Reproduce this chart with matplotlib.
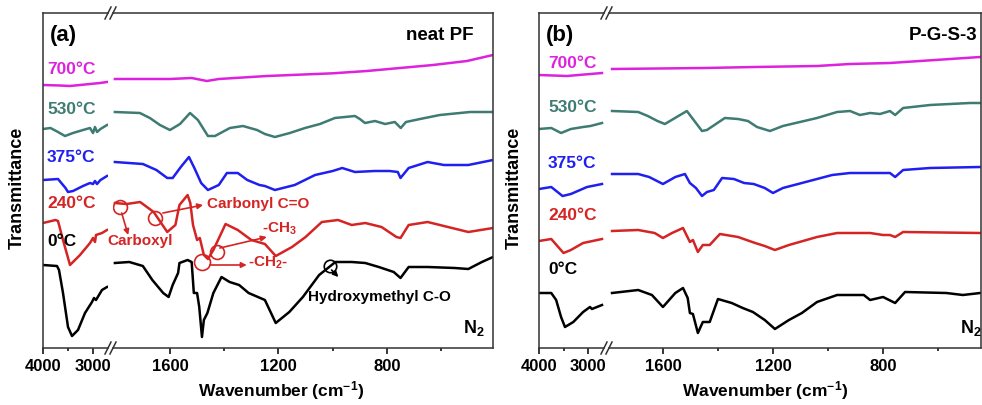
import numpy as np
import matplotlib.pyplot as plt
from matplotlib.lines import Line2D

plt.rcParams['font.family'] = ['Liberation Sans', 'DejaVu Sans']
plt.rcParams['font.weight'] = 'bold'
plt.rcParams['mathtext.fontset'] = 'custom'
plt.rcParams['mathtext.rm'] = 'Liberation Sans:bold'
plt.rcParams['mathtext.bf'] = 'Liberation Sans:bold'
plt.rcParams['mathtext.default'] = 'bf'

# FTIR spectra, transmittance in arbitrary (stacked) units
# neat PF
wn_a700 = [4000, 3660, 3460, 3160, 2860, 2720,
           1803, 1600, 1520, 1464, 1420, 1242, 999, 874, 630, 505, 409]
t_a700 = [263, 262.5, 262, 263.5, 265, 266,
          269, 269, 270, 267, 269, 272, 274.7, 277, 283, 287, 293]

wn_a530 = [4000, 3850, 3700, 3560, 3400, 3200, 3060, 3000, 2960, 2920, 2850, 2720,
           1803, 1711, 1674, 1637, 1600, 1563, 1526, 1497, 1460, 1434, 1379, 1331, 1279,
           1250, 1213, 1158, 1102, 1047, 992, 918, 900, 881, 844, 807, 771, 749, 730,
           678, 605, 494, 409]
t_a530 = [219, 220, 216, 212, 215, 218, 220, 215, 221, 216, 219, 223,
          236, 235, 230, 223, 218, 224, 235, 228, 212, 212, 220, 222, 218,
          214, 211, 215, 220, 224, 230, 232, 229, 225, 227, 224, 226, 220, 226,
          229, 233, 236, 236]

wn_a375 = [4000, 3700, 3550, 3500, 3400, 3200, 3060, 3000, 2960, 2920, 2850, 2720,
           1803, 1700, 1650, 1610, 1590, 1560, 1530, 1510, 1485, 1460, 1420, 1390, 1350,
           1315, 1270, 1250, 1213, 1140, 1065, 1000, 965, 918, 845, 790, 760, 750, 720,
           650, 590, 500, 409]
t_a375 = [168, 169, 160, 156, 157, 162, 165, 164, 167, 164, 168, 172,
          186, 184, 178, 170, 170, 181, 191, 180, 165, 158, 163, 175, 175,
          168, 163, 162, 158, 163, 173, 177, 180, 176, 177, 177, 176, 170, 180,
          186, 183, 183, 188]

wn_a240 = [4000, 3750, 3700, 3600, 3460, 3400, 3260, 3060, 3000, 2960, 2940, 2820, 2720,
           1803, 1760, 1710, 1660, 1610, 1580, 1565, 1535, 1525, 1515, 1500, 1490, 1475,
           1460, 1440, 1395, 1350, 1300, 1250, 1210, 1150, 1100, 1040, 980, 930, 880,
           820, 765, 750, 720, 650, 575, 500, 409]
t_a240 = [125, 128, 127, 108, 83, 86, 93, 105, 110, 106, 113, 115, 118,
          145, 144, 146, 136, 116, 123, 143, 153, 145, 123, 108, 110, 93,
          89, 98, 124, 118, 108, 104, 92, 101, 111, 126, 128, 123, 125,
          121, 111, 110, 123, 126, 121, 116, 120]

wn_a0 = [4000, 3720, 3680, 3600, 3500, 3420, 3300, 3160, 3020, 2980, 2940, 2820, 2720,
         1803, 1750, 1700, 1665, 1625, 1605, 1590, 1570, 1565, 1535, 1520, 1512, 1500,
         1492, 1482, 1475, 1462, 1440, 1410, 1380, 1345, 1310, 1250, 1210, 1160, 1110,
         1050, 990, 930, 880, 830, 775, 750, 720, 650, 550, 500, 450, 409]
t_a0 = [83, 82, 78, 55, 21, 12, 18, 35, 46, 50, 48, 58, 61,
        85, 86, 82, 68, 55, 51, 63, 75, 85, 88, 86, 55, 55,
        41, 11, 28, 35, 55, 71, 66, 63, 55, 48, 25, 36, 51,
        73, 86, 86, 85, 81, 76, 70, 81, 81, 80, 79, 86, 91]

# P-G-S-3
wn_b700 = [4000, 3430, 2715, 1785, 1450, 1265, 1040, 920, 775, 447]
t_b700 = [273, 272, 275, 279, 280, 281, 282, 284, 285, 291]

wn_b530 = [4000, 3750, 3550, 3350, 3100, 2950, 2715,
           1785, 1690, 1655, 1620, 1593, 1513, 1458, 1440, 1375, 1327, 1291, 1258, 1211,
           1164, 1040, 967, 920, 884, 847, 811, 775, 756, 727, 629, 484, 447]
t_b530 = [219, 220, 215, 219, 221, 222, 225,
          237, 236, 232, 227, 224, 237, 217, 218, 230, 229, 227, 221, 217,
          222, 230, 236, 237, 233, 235, 234, 237, 233, 240, 243, 245, 245]

wn_b375 = [4000, 3750, 3520, 3350, 3020, 2715,
           1785, 1690, 1650, 1600, 1555, 1520, 1502, 1480, 1458, 1440, 1415, 1385, 1342,
           1305, 1270, 1230, 1200, 1164, 1095, 985, 920, 847, 775, 756, 727, 629, 447]
t_b375 = [159, 161, 152, 154, 161, 164,
          174, 174, 171, 164, 171, 174, 165, 160, 152, 156, 158, 170, 169,
          165, 164, 160, 155, 160, 165, 173, 175, 175, 175, 171, 178, 180, 181]

wn_b240 = [4000, 3750, 3500, 3350, 3100, 2715,
           1785, 1690, 1630, 1600, 1567, 1527, 1502, 1491, 1473, 1455, 1430, 1393, 1327,
           1265, 1230, 1193, 1142, 1040, 967, 847, 800, 775, 756, 727, 447]
t_b240 = [107, 109, 95, 98, 105, 109,
          117, 118, 115, 110, 115, 120, 106, 108, 96, 103, 103, 114, 111,
          105, 102, 98, 103, 111, 115, 115, 113, 113, 111, 116, 115]

wn_b0 = [4000, 3750, 3650, 3550, 3470, 3300, 3100, 2960, 2920, 2715,
         1785, 1690, 1640, 1600, 1555, 1527, 1510, 1502, 1491, 1473, 1455, 1430, 1400,
         1350, 1310, 1273, 1230, 1193, 1142, 1095, 1040, 967, 870, 847, 800, 756, 720,
         570, 510, 447]
t_b0 = [55, 55, 48, 31, 21, 26, 36, 41, 39, 43,
        55, 58, 53, 41, 55, 60, 50, 35, 34, 15, 26, 26, 49,
        45, 40, 36, 28, 19, 28, 35, 46, 53, 53, 48, 51, 45, 56,
        55, 53, 55]

temps = ['700°C', '530°C', '375°C', '240°C', '0°C']
colors = ['#DD22DD', '#3E7B73', '#1F1FF0', '#D42424', 'black']
RED = '#D42424'

W, H = 982, 405
fig = plt.figure(figsize=(W / 100, H / 100), dpi=100)


def fx(x):
    return x / W


def fy(y):
    return 1 - y / H


TOP, BOT = 13, 348


def make_panel(x0, xb0, xb1, x1, lo_lim, hi_lim):
    axL = fig.add_axes([fx(x0), fy(BOT), fx(xb0 - x0), (BOT - TOP) / H])
    axR = fig.add_axes([fx(xb1), fy(BOT), fx(x1 - xb1), (BOT - TOP) / H])
    axL.set_xlim(*lo_lim)
    axR.set_xlim(*hi_lim)
    for ax in (axL, axR):
        ax.set_ylim(0, 335)
        ax.set_yticks([])
        ax.tick_params(axis='x', direction='out', length=4, width=1.1,
                       labelsize=12, pad=4)
        ax.tick_params(axis='x', which='minor', direction='out', length=2.5, width=1.1)
        for s in ax.spines.values():
            s.set_linewidth(1.1)
            s.set_color('#333333')
    axL.spines['right'].set_visible(False)
    axR.spines['left'].set_visible(False)
    axL.set_xticks([4000, 3000])
    axL.set_xticks([3500], minor=True)
    axR.set_xticks([1600, 1200, 800])
    axR.set_xticks([1400, 1000, 600], minor=True)
    # axis break marks
    for xs in (xb0, xb1):
        for yy in (TOP, BOT):
            fig.add_artist(Line2D([fx(xs - 3), fx(xs + 3)], [fy(yy + 6), fy(yy - 6)],
                                  color='#333333', lw=1.1))
    return axL, axR


def draw(axL, axR, wn, t, color):
    wn = np.asarray(wn, float)
    t = np.asarray(t, float)
    hi = wn > 2000
    axL.plot(wn[hi], t[hi], color=color, lw=1.8, solid_joinstyle='round')
    axR.plot(wn[~hi], t[~hi], color=color, lw=1.8, solid_joinstyle='round')


aL, aR = make_panel(43, 108, 113, 493, (4000, 2700), (1810, 409))
bL, bR = make_panel(539, 604, 609, 981, (4000, 2674), (1796, 444))

for wn, t, c in zip([wn_a700, wn_a530, wn_a375, wn_a240, wn_a0],
                    [t_a700, t_a530, t_a375, t_a240, t_a0], colors):
    draw(aL, aR, wn, t, c)
for wn, t, c in zip([wn_b700, wn_b530, wn_b375, wn_b240, wn_b0],
                    [t_b700, t_b530, t_b375, t_b240, t_b0], colors):
    draw(bL, bR, wn, t, c)

# temperature labels
for lab, c, ya, yb in zip(temps, colors, [70, 109, 157, 203, 242], [63, 107, 163, 216, 270]):
    fig.text(fx(47), fy(ya), lab, color=c, fontsize=12.5, ha='left', va='center')
    fig.text(fx(548), fy(yb), lab, color=c, fontsize=12.5, ha='left', va='center')

fig.text(fx(50), fy(36), '(a)', fontsize=16, ha='left', va='center')
fig.text(fx(474), fy(35), 'neat PF', fontsize=13.5, ha='right', va='center')
fig.text(fx(546), fy(36), '(b)', fontsize=16, ha='left', va='center')
fig.text(fx(977), fy(35), 'P-G-S-3', fontsize=13.5, ha='right', va='center')

fig.text(fx(463), fy(333), 'N$_2$', fontsize=13, ha='left', va='baseline')
fig.text(fx(960), fy(333), 'N$_2$', fontsize=13, ha='left', va='baseline')

for x in (17, 514):
    fig.text(fx(x), fy(188), 'Transmittance', fontsize=13, rotation=90,
             ha='center', va='center')
for x in (281, 765):
    fig.text(fx(x), fy(391), 'Wavenumber (cm$^{-1}$)', fontsize=12.5,
             ha='center', va='center')

# band assignments on the neat PF spectra
arrow = dict(arrowstyle='-|>', color=RED, lw=1.2, mutation_scale=8, shrinkA=0, shrinkB=0)
circ_wn = [1784, 1655, 1482, 1427]
circ_t = [141, 130, 86, 96]
circ_ms = [10, 10, 11.5, 10]
for w_, t_, m_ in zip(circ_wn, circ_t, circ_ms):
    aR.plot(w_, t_, 'o', ms=m_, mfc='none', mec=RED, mew=1.2)
aR.plot(1010, 82, 'o', ms=9, mfc='none', mec='black', mew=1.2)

aR.annotate('', xy=(1754, 113), xytext=(1778, 135), arrowprops=arrow)
aR.text(1832, 106.5, 'Carboxyl', color=RED, fontsize=11, ha='left', va='center')
aR.annotate('', xy=(1478, 143), xytext=(1626, 135), arrowprops=arrow)
aR.text(1462, 144, 'Carbonyl C=O', color=RED, fontsize=11, ha='left', va='center')
aR.annotate('', xy=(1317, 83), xytext=(1453, 83), arrowprops=arrow)
aR.text(1312, 81, '-CH$_2$-', color=RED, fontsize=11, ha='left', va='baseline')
aR.annotate('', xy=(1243, 111), xytext=(1416, 100), arrowprops=arrow)
aR.text(1261, 115, '-CH$_3$', color=RED, fontsize=11, ha='left', va='baseline')
aR.annotate('', xy=(979, 71), xytext=(1004, 78),
            arrowprops=dict(arrow, color='black'))
aR.text(1091, 51, 'Hydroxymethyl C-O', color='black', fontsize=11, ha='left', va='center')

fig.savefig('out.png', dpi=100)
